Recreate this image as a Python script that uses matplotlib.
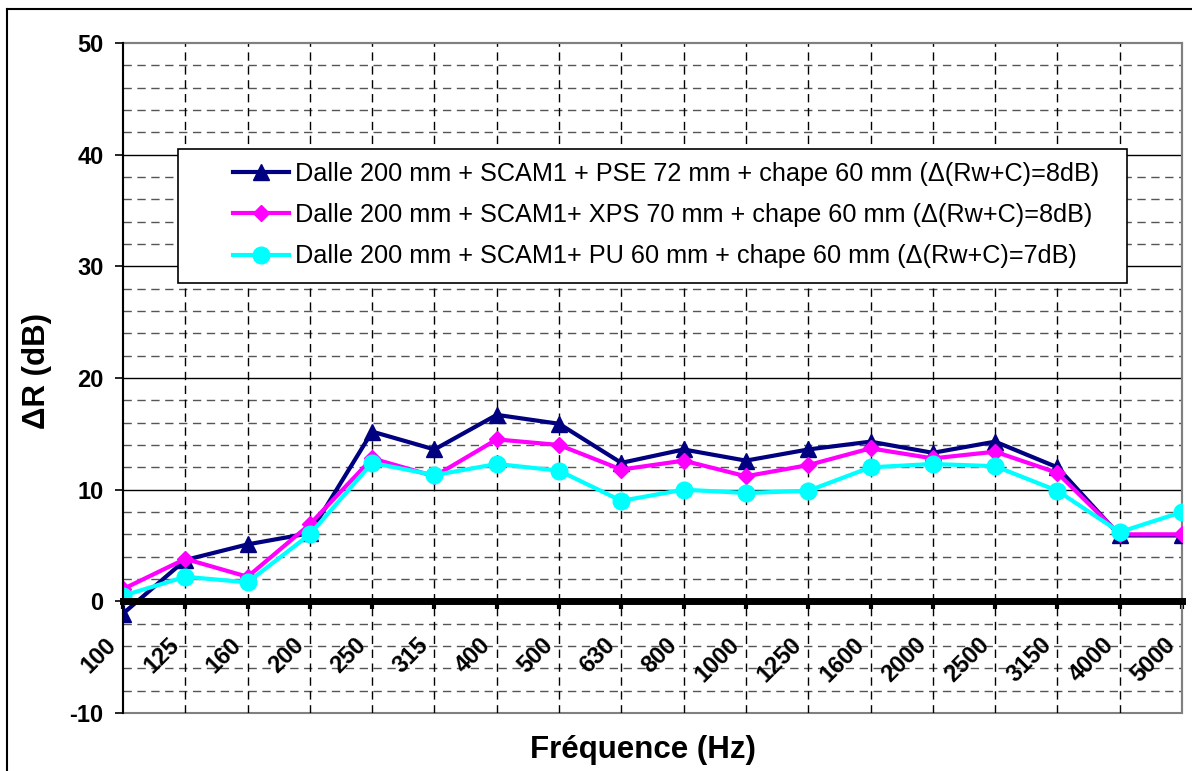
import numpy as np
import matplotlib
matplotlib.use("Agg")
import matplotlib.pyplot as plt
from matplotlib.lines import Line2D
from matplotlib.patches import Rectangle
from matplotlib.transforms import ScaledTranslation

plt.rcParams['font.family'] = ['Liberation Sans', 'DejaVu Sans']

# bandes de tiers d'octave
freqs = ["100", "125", "160", "200", "250", "315", "400", "500", "630", "800",
         "1000", "1250", "1600", "2000", "2500", "3150", "4000", "5000"]

# amélioration ΔR (dB) pour chaque doublage
pse_72 = [-1.1, 3.7, 5.1, 6.1, 15.2, 13.6, 16.7, 15.9, 12.4, 13.6,
          12.6, 13.6, 14.3, 13.3, 14.3, 12.0, 5.9, 5.9]
xps_70 = [1.1, 3.8, 2.2, 6.9, 12.8, 11.2, 14.5, 14.0, 11.8, 12.6,
          11.2, 12.2, 13.7, 12.8, 13.4, 11.5, 6.0, 6.0]
pu_60 = [0.5, 2.2, 1.7, 6.0, 12.4, 11.3, 12.3, 11.7, 9.0, 10.0,
         9.7, 9.9, 12.0, 12.3, 12.1, 9.9, 6.2, 8.0]

labels = [
    "Dalle 200 mm + SCAM1 + PSE 72 mm + chape 60 mm (\u0394(Rw+C)=8dB)",
    "Dalle 200 mm + SCAM1+ XPS 70 mm + chape 60 mm (\u0394(Rw+C)=8dB)",
    "Dalle 200 mm + SCAM1+ PU 60 mm + chape 60 mm (\u0394(Rw+C)=7dB)",
]

W, H = 1192, 771
fig = plt.figure(figsize=(W / 100, H / 100), dpi=100)
ax = fig.add_axes([123 / W, 1 - 713 / H, (1182 - 123) / W, (713 - 43) / H])

x = np.arange(len(freqs))
ax.set_xlim(0, len(freqs) - 1)
ax.set_ylim(-10, 50)

# quadrillage : traits pleins tous les 10 dB, pointillés tous les 2 dB
for v in range(-8, 50, 2):
    if v % 10 == 0:
        ax.axhline(v, color="black", lw=1.0, zorder=1)
    else:
        ax.axhline(v, color="#555555", lw=1.0, ls=(0, (6, 4)), zorder=1)
for xi in x[1:-1]:
    ax.axvline(xi, color="black", lw=1.0, ls=(0, (6, 4)), zorder=1)

ax.plot(x, pse_72, color="#000080", lw=3, marker="^", ms=11, zorder=4, label=labels[0])
ax.plot(x, xps_70, color="#FF00FF", lw=3, marker="D", ms=8.5, zorder=5, label=labels[1])
ax.plot(x, pu_60, color="#00FFFF", lw=3, marker="o", ms=12, zorder=6, label=labels[2])

# cadre de la zone de tracé
for s in ("top", "right"):
    ax.spines[s].set_color("#808080")
    ax.spines[s].set_linewidth(1.5)
ax.add_patch(Rectangle((0, 0), 1, 1, transform=ax.transAxes, fill=False,
                       edgecolor="#808080", lw=1.5, zorder=0, clip_on=False))
ax.spines["left"].set_color("black")
ax.spines["left"].set_linewidth(1.5)
ax.spines["left"].set_zorder(7)
ax.spines["bottom"].set_position(("data", 0))
ax.spines["bottom"].set_linewidth(5)
ax.spines["bottom"].set_zorder(7)

ax.set_yticks(range(-10, 51, 10))
ax.set_yticklabels([str(v) for v in range(-10, 51, 10)], fontsize=17, fontweight="bold")
ax.tick_params(axis="y", direction="out", length=6, width=1.2, pad=8)

ax.set_xticks(x)
ax.set_xticklabels(freqs, fontsize=17, fontweight="bold", rotation=45,
                   ha="right", va="top", rotation_mode="anchor")
ax.tick_params(axis="x", direction="out", length=6, width=3, pad=17)
shift = ScaledTranslation(-18 / 100, 0, fig.dpi_scale_trans)
for lab in ax.get_xticklabels():
    lab.set_transform(lab.get_transform() + shift)

fig.text(37 / W, 1 - 371 / H, "\u0394R (dB)", fontsize=22.5, fontweight="bold",
         rotation=90, ha="center", va="center")
fig.text(643 / W, 1 - 750 / H, "Fréquence (Hz)", fontsize=22.5, fontweight="bold",
         ha="center", va="center")

# légende encadrée, fond blanc
ax.add_patch(Rectangle((178 / W, 1 - 283 / H), (1127 - 178) / W, (283 - 149) / H,
                       transform=fig.transFigure, facecolor="white",
                       edgecolor="black", lw=1.2, zorder=8, clip_on=False))
leg = ax.legend(loc="upper left", bbox_to_anchor=(233 / W, 1 - 162 / H),
                bbox_transform=fig.transFigure, frameon=False, fontsize=18.2,
                borderpad=0, borderaxespad=0, handlelength=2.2, handletextpad=0.27,
                labelspacing=0.68)
leg.set_zorder(9)

# cadre extérieur
fig.add_artist(Line2D([7 / W, 7 / W], [0, 1 - 9 / H], transform=fig.transFigure,
                      color="black", lw=1.5))
fig.add_artist(Line2D([7 / W, 1], [1 - 9 / H, 1 - 9 / H], transform=fig.transFigure,
                      color="black", lw=1.5))

fig.savefig("out.png", dpi=100)
